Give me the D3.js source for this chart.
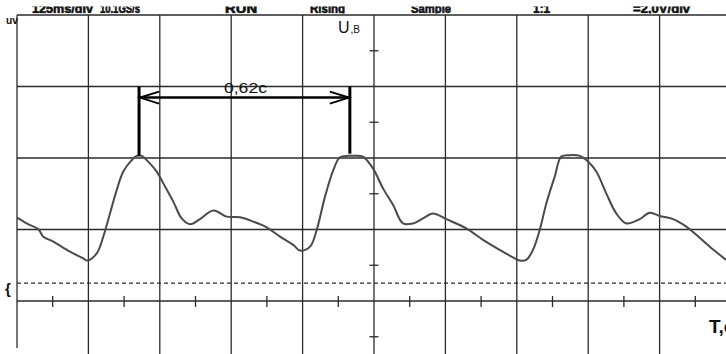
<!DOCTYPE html>
<html><head><meta charset="utf-8">
<script src="https://cdn.jsdelivr.net/npm/d3@7/dist/d3.min.js"></script>
<style>html,body{margin:0;padding:0;background:#fff;}svg{display:block;}</style>
</head><body>
<svg id="c" width="726" height="354"></svg>
<script>
// Time (s) and voltage (V) samples of the trace
const timeS = [0,0.0285,0.0626,0.0774,0.1068,0.1559,0.195,0.2068,0.2344,0.2538,0.2735,0.2932,0.3126,0.3374,0.352,0.3668,0.3815,0.4109,0.4303,0.4597,0.4844,0.5088,0.5382,0.5774,0.6168,0.6559,0.695,0.7344,0.7735,0.8126,0.8324,0.8618,0.8815,0.9059,0.9303,0.95,0.9744,1.0038,1.0176,1.047,1.0765,1.1059,1.1353,1.1647,1.1941,1.2235,1.2626,1.3215,1.3706,1.4197,1.4588,1.4785,1.4979,1.5176,1.5374,1.5568,1.5815,1.6009,1.6256,1.655,1.6794,1.7038,1.7332,1.7626,1.7921,1.8315,1.8609,1.8903,1.9294,1.9685,1.9979,2.0374,2.0618,2.0853];
const voltageV = [2.34,2.17,2.01,1.80,1.66,1.38,1.19,1.13,1.33,1.80,2.45,3.10,3.62,3.94,4.06,4.06,3.94,3.62,3.29,2.78,2.31,2.15,2.29,2.53,2.36,2.34,2.22,2.06,1.80,1.57,1.41,1.52,1.99,2.92,3.66,4.02,4.06,4.06,4.04,3.71,3.15,2.69,2.17,2.17,2.31,2.45,2.29,2.03,1.71,1.43,1.22,1.13,1.15,1.43,1.99,2.73,3.48,4.04,4.08,4.06,3.90,3.62,3.01,2.45,2.17,2.29,2.47,2.38,2.29,2.08,1.85,1.52,1.33,1.15];
const peakTimes = [0.359, 0.979];
const peakVolts = [4.06, 4.12];
const markerTopV = 6.0;
const arrowV = 5.69;
const intervalLabel = "0,62с";
const yAxisLabel = ["U", ",В"];
const xAxisLabel = "T,с";
const levelV = 0.5;
const statusTexts = ["125ms/div", "10.1GS/s", "RUN", "Rising", "Sample", "1:1", "=2,0V/div"];
const statusTimes = [0.044, 0.244, 0.612, 0.862, 1.159, 1.518, 1.812];
const statusWidths = [61, 40, 32, 35, 40, 17, 57];
const gridTimes = d3.range(0, 11).map(i => i * 0.21);
const gridVolts = d3.range(-8, 10, 2);
const minorVolts = [-7,-5,-3,-1,1,3,5,7];
const minorTimes = d3.range(0, 10).map(i => i * 0.21 + 0.105);

const W = 726, H = 354;
const svg = d3.select("#c");
svg.append("rect").attr("width", W).attr("height", H).attr("fill", "#fff");
const x = d3.scaleLinear().domain([0, 2.1]).range([17, 731]);
const y = d3.scaleLinear().domain([-8, 8]).range([587, 15]);
const gc = "#2a2a2a";
const font = "Liberation Sans, Arial, sans-serif";

// Grid
svg.append("g").selectAll("line").data(gridTimes).join("line")
  .attr("x1", d => x(d)).attr("x2", d => x(d))
  .attr("y1", y(8)).attr("y2", (d, i) => i === 0 ? 348 : H)
  .attr("stroke", gc).attr("stroke-width", 1.3);
svg.append("g").selectAll("line").data(gridVolts).join("line")
  .attr("x1", x(0)).attr("x2", W)
  .attr("y1", d => y(d)).attr("y2", d => y(d))
  .attr("stroke", gc).attr("stroke-width", 1.3);

// Center axis ticks
svg.append("g").selectAll("line").data(minorVolts).join("line")
  .attr("x1", x(1.05) - 4.5).attr("x2", x(1.05) + 4.5)
  .attr("y1", d => y(d)).attr("y2", d => y(d))
  .attr("stroke", gc).attr("stroke-width", 1.3);
svg.append("g").selectAll("line").data(minorTimes).join("line")
  .attr("x1", d => x(d)).attr("x2", d => x(d))
  .attr("y1", y(0) - 5).attr("y2", y(0) + 6)
  .attr("stroke", gc).attr("stroke-width", 1.3);

// Dashed level line
svg.append("line")
  .attr("x1", x(0)).attr("x2", W)
  .attr("y1", y(levelV)).attr("y2", y(levelV))
  .attr("stroke", gc).attr("stroke-width", 1.1).attr("stroke-dasharray", "4,3");

// Trace
const pts = timeS.map((t, i) => [t, voltageV[i]]);
svg.append("path").datum(pts)
  .attr("d", d3.line().x(d => x(d[0])).y(d => y(d[1])).curve(d3.curveCatmullRom.alpha(0.5)))
  .attr("fill", "none").attr("stroke", "#4a4a4a").attr("stroke-width", 2);

// Peak markers
svg.append("g").selectAll("line").data(peakTimes).join("line")
  .attr("x1", d => x(d)).attr("x2", d => x(d))
  .attr("y1", (d, i) => y(peakVolts[i])).attr("y2", y(markerTopV))
  .attr("stroke", "#000").attr("stroke-width", 3);

// Arrow
const ax1 = x(peakTimes[0]), ax2 = x(peakTimes[1]), ay = y(arrowV);
svg.append("line").attr("x1", ax1).attr("x2", ax2).attr("y1", ay).attr("y2", ay)
  .attr("stroke", "#000").attr("stroke-width", 2.5);
svg.append("path")
  .attr("d", `M${ax1 + 20},${ay - 6} L${ax1 + 1},${ay} L${ax1 + 20},${ay + 6}`)
  .attr("fill", "none").attr("stroke", "#000").attr("stroke-width", 2);
svg.append("path")
  .attr("d", `M${ax2 - 20},${ay - 6} L${ax2 - 1},${ay} L${ax2 - 20},${ay + 6}`)
  .attr("fill", "none").attr("stroke", "#000").attr("stroke-width", 2);

// Interval label
svg.append("text").attr("x", (ax1 + ax2) / 2 + 1).attr("y", 92.5)
  .attr("text-anchor", "middle").attr("font-family", font)
  .attr("font-size", 15).attr("fill", "#111")
  .attr("textLength", 43).attr("lengthAdjust", "spacingAndGlyphs")
  .text(intervalLabel);

// Axis labels
const ul = svg.append("text").attr("x", 338).attr("y", 33)
  .attr("font-family", font).attr("fill", "#111");
ul.append("tspan").attr("font-size", 16).text(yAxisLabel[0]);
ul.append("tspan").attr("font-size", 10).attr("dx", 1).text(yAxisLabel[1]);

svg.append("text").attr("x", 709).attr("y", 333)
  .attr("font-family", font).attr("font-weight", "bold")
  .attr("font-size", 19).attr("fill", "#111").text(xAxisLabel);

// Status bar (clipped like the screenshot)
const defs = svg.append("defs");
defs.append("clipPath").attr("id", "topclip").append("rect")
  .attr("x", 0).attr("y", 6.5).attr("width", W).attr("height", 7);
const st = svg.append("g").attr("clip-path", "url(#topclip)");
st.selectAll("text").data(statusTexts).join("text")
  .attr("x", (d, i) => x(statusTimes[i])).attr("y", 13)
  .attr("font-family", font).attr("font-weight", "bold")
  .attr("font-size", 12).attr("fill", "#111")
  .attr("stroke", "#111").attr("stroke-width", 0.6)
  .attr("textLength", (d, i) => statusWidths[i]).attr("lengthAdjust", "spacingAndGlyphs")
  .text(d => d);

// Left small marks
svg.append("text").attr("x", 6).attr("y", 24)
  .attr("font-family", font).attr("font-weight", "bold")
  .attr("font-size", 10).attr("fill", "#111")
  .attr("textLength", 12).attr("lengthAdjust", "spacingAndGlyphs").text("uv");
svg.append("text").attr("x", 5).attr("y", 294)
  .attr("font-family", font).attr("font-weight", "bold")
  .attr("font-size", 15).attr("fill", "#111").text("{");
</script>
</body></html>
